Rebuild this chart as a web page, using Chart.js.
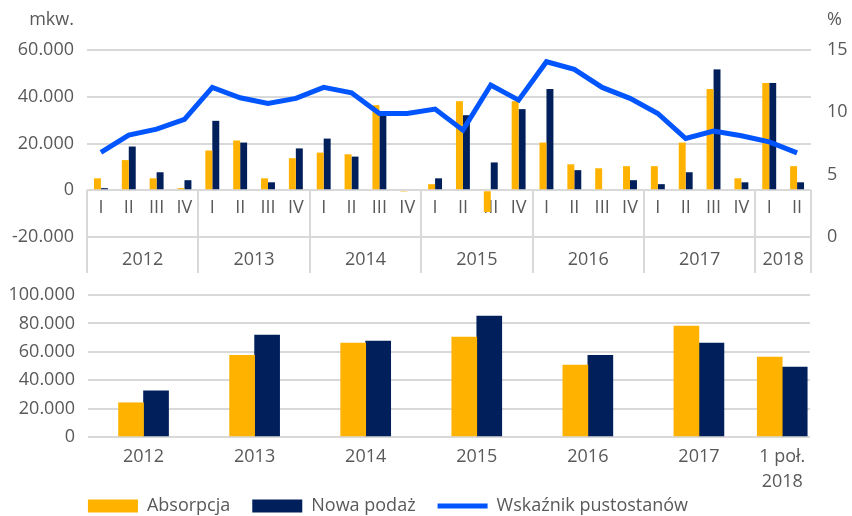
<!DOCTYPE html>
<html>
<head>
<meta charset="utf-8">
<script src="https://cdn.jsdelivr.net/npm/chart.js@4"></script>
<style>
html,body{margin:0;padding:0;background:#fff;}
#wrap{width:852px;height:516px;position:relative;overflow:hidden;}
#c1{position:absolute;left:0;top:0;}
#c2{position:absolute;left:0;top:280px;}
</style>
</head>
<body>
<div id="wrap">
<canvas id="c1" width="852" height="280"></canvas>
<canvas id="c2" width="852" height="236"></canvas>
</div>
<script>
// ---- data ----
const quarterLabels = ['I','II','III','IV','I','II','III','IV','I','II','III','IV','I','II','III','IV','I','II','III','IV','I','II','III','IV','I','II'];
const years = ['2012','2013','2014','2015','2016','2017','2018'];
const quartersPerYear = [4,4,4,4,4,4,2];
const absorpcjaQ = [5100,12900,5100,900, 17000,21300,5100,13700, 16100,15400,36400,-600, 2600,38100,-9300,38100, 20400,11100,9400,10300, 10300,20400,43300,5100, 45900,10300];
const nowaPodazQ = [900,18700,7700,4300, 29700,20400,3400,17900, 22100,14400,32100,0, 5100,32100,11900,34700, 43300,8600,0,4300, 2600,7700,51700,3400, 45900,3400];
const pustostany = [6.78,8.17,8.65,9.43, 12.0,11.17,10.71,11.12, 12.0,11.57,9.91,9.91, 10.26,8.57,12.19,10.98, 14.06,13.45,12.0,11.12, 9.91,7.9,8.49,8.12, 7.63,6.75];
const annualLabels = ['2012','2013','2014','2015','2016','2017',['1 poł.','2018']];
const absorpcjaY = [24100,57600,66100,70400,50600,78100,56200];
const nowaPodazY = [32500,71800,67500,85200,57600,66100,49200];
const leftTicks = [-20000,0,20000,40000,60000];
const rightTicks = [0,5,10,15];
const annualTicks = [0,20000,40000,60000,80000,100000];
const unitLeft = 'mkw.';
const unitRight = '%';

// ---- style ----
const YEL = '#FFB300';
const NAVY = '#001F5B';
const BLUE = '#0055FF';
const GRID = '#d9d9d9';
const TXT = '#595959';

Chart.defaults.font.family = "'Open Sans', sans-serif";
Chart.defaults.font.size = 18;
Chart.defaults.color = TXT;
Chart.defaults.animation = false;

const fmt = v => (v < 0 ? '-' : '') + Math.abs(v).toString().replace(/\B(?=(\d{3})+(?!\d))/g, '.');

// year group boundaries & centres (in quarter units)
const bounds = [0];
const centers = [];
quartersPerYear.forEach(n => { const s = bounds[bounds.length - 1]; centers.push(s + n / 2); bounds.push(s + n); });
const nQ = bounds[bounds.length - 1];

const unitPlugin = {
  id: 'units',
  afterDraw(chart) {
    const {ctx, scales, chartArea} = chart;
    ctx.save();
    ctx.font = "18px 'Open Sans'";
    ctx.fillStyle = TXT;
    ctx.textBaseline = 'alphabetic';
    ctx.textAlign = 'right';
    ctx.fillText(unitLeft, scales.y.right - 13, chartArea.top - 25);
    ctx.textAlign = 'left';
    ctx.fillText(unitRight, scales.y1.left + 16, chartArea.top - 25);
    ctx.restore();
  }
};

const topChart = new Chart(document.getElementById('c1'), {
  type: 'bar',
  data: {
    labels: quarterLabels,
    datasets: [
      {type: 'line', label: 'Wskaźnik pustostanów', data: pustostany, yAxisID: 'y1', xAxisID: 'x',
       borderColor: BLUE, backgroundColor: BLUE, borderWidth: 5, pointRadius: 0, tension: 0, order: 0},
      {label: 'Absorpcja', data: absorpcjaQ, backgroundColor: YEL, order: 1, yAxisID: 'y', xAxisID: 'x',
       categoryPercentage: 0.5, barPercentage: 1},
      {label: 'Nowa podaż', data: nowaPodazQ, backgroundColor: NAVY, order: 2, yAxisID: 'y', xAxisID: 'x',
       categoryPercentage: 0.5, barPercentage: 1}
    ]
  },
  options: {
    responsive: false,
    animation: false,
    events: [],
    layout: {padding: {top: 50, left: 0, right: 0, bottom: 0}},
    plugins: {legend: {display: false}, tooltip: {enabled: false}},
    scales: {
      x: {type: 'category', position: {y: 0}, offset: true,
          grid: {display: false, drawTicks: false}, border: {display: false},
          ticks: {padding: 7, autoSkip: false, maxRotation: 0}},
      xYear: {type: 'linear', axis: 'x', position: 'bottom', min: 0, max: nQ, offset: false,
          grid: {display: false, drawTicks: false, offset: false}, border: {display: false},
          afterBuildTicks: s => { s.ticks = centers.map(v => ({value: v})); },
          ticks: {padding: 12, autoSkip: false, maxRotation: 0, callback: (v, i) => years[i]},
          afterFit: s => { s.height = 43; }},
      xCells: {type: 'linear', axis: 'x', position: {y: 0}, min: 0, max: nQ, offset: false,
          grid: {display: true, drawOnChartArea: false, drawTicks: true, tickLength: 83, color: GRID, lineWidth: 2, offset: false},
          border: {display: false},
          afterBuildTicks: s => { s.ticks = bounds.map(v => ({value: v})); },
          ticks: {display: false}},
      y: {position: 'left', min: leftTicks[0], max: leftTicks[leftTicks.length - 1],
          afterBuildTicks: s => { s.ticks = leftTicks.map(v => ({value: v})); },
          grid: {color: GRID, lineWidth: 2, drawTicks: false}, border: {display: false},
          ticks: {padding: 13, callback: v => fmt(v)},
          afterFit: s => { s.width = 87; }},
      y1: {position: 'right', min: rightTicks[0], max: rightTicks[rightTicks.length - 1],
          afterBuildTicks: s => { s.ticks = rightTicks.map(v => ({value: v})); },
          grid: {display: false, drawTicks: false}, border: {display: false},
          ticks: {padding: 16},
          afterFit: s => { s.width = 41; }}
    }
  },
  plugins: [unitPlugin]
});

const legendShift = {
  id: 'legendShift',
  afterLayout(chart) {
    const l = chart.legend;
    if (l) {
      l.left -= 17; l.right -= 17;
      l.top -= 19; l.bottom = chart.height;
      l.width = l.right - l.left; l.height = l.bottom - l.top;
    }
  }
};

const legendItems = () => [
  {text: 'Absorpcja', fillStyle: YEL, strokeStyle: YEL, lineWidth: 0, pointStyle: 'rect', hidden: false, datasetIndex: 0, fontColor: TXT},
  {text: 'Nowa podaż', fillStyle: NAVY, strokeStyle: NAVY, lineWidth: 0, pointStyle: 'rect', hidden: false, datasetIndex: 1, fontColor: TXT},
  {text: topChart.data.datasets[0].label, fillStyle: BLUE, strokeStyle: BLUE, lineWidth: 5, pointStyle: 'line', hidden: false, datasetIndex: 2, fontColor: TXT}
];

new Chart(document.getElementById('c2'), {
  type: 'bar',
  data: {
    datasets: [
      {label: 'Absorpcja', data: centers.map((c, i) => ({x: c, y: absorpcjaY[i]})), backgroundColor: YEL, barThickness: 25},
      {label: 'Nowa podaż', data: centers.map((c, i) => ({x: c, y: nowaPodazY[i]})), backgroundColor: NAVY, barThickness: 25}
    ]
  },
  options: {
    responsive: false,
    animation: false,
    events: [],
    layout: {padding: {top: 15, right: 42, bottom: 0, left: 0}},
    plugins: {
      tooltip: {enabled: false},
      legend: {position: 'bottom', maxHeight: 22,
        labels: {usePointStyle: true, pointStyleWidth: 50, boxHeight: 13, padding: 22, color: TXT,
                 generateLabels: legendItems}}
    },
    scales: {
      x: {type: 'linear', min: 0, max: nQ, offset: false,
          grid: {display: false, drawTicks: false, offset: false}, border: {display: false},
          afterBuildTicks: s => { s.ticks = centers.map(v => ({value: v})); },
          ticks: {padding: 7, autoSkip: false, maxRotation: 0, font: {lineHeight: 1.4}, callback: (v, i) => annualLabels[i]},
          afterFit: s => { s.height = 57; }},
      y: {min: annualTicks[0], max: annualTicks[annualTicks.length - 1],
          afterBuildTicks: s => { s.ticks = annualTicks.map(v => ({value: v})); },
          grid: {color: GRID, lineWidth: 2, drawTicks: false}, border: {display: false},
          ticks: {padding: 13, callback: v => fmt(v)},
          afterFit: s => { s.width = 88; s.paddingTop = 11; }}
    }
  },
  plugins: [legendShift]
});
</script>
</body>
</html>
